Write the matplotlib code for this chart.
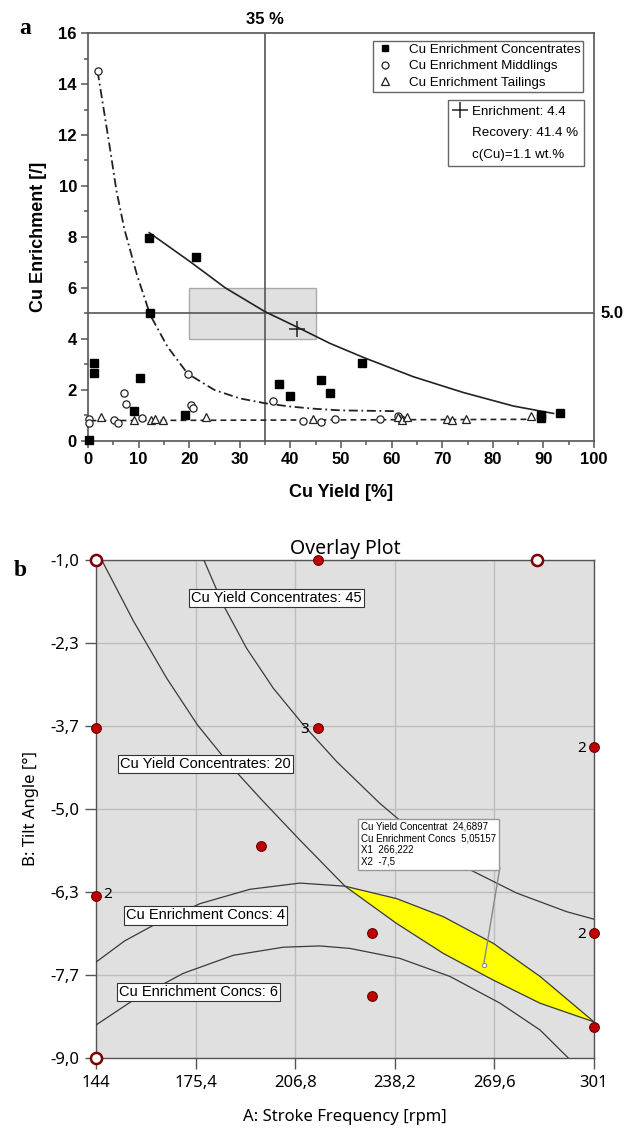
import matplotlib
matplotlib.use("Agg")
import matplotlib.pyplot as plt
from matplotlib.lines import Line2D
from matplotlib.patches import Rectangle

# ---------------- data: panel a ----------------
conc_x = [12.1, 21.4, 12.3, 1.1, 1.1, 10.2, 9.1, 19.1, 37.7, 39.9, 0.1, 46.1, 47.9, 54.1, 89.5, 89.6, 93.2]
conc_y = [7.95, 7.2, 5.0, 3.04, 2.68, 2.49, 1.17, 1.0, 2.22, 1.78, 0.03, 2.39, 1.88, 3.05, 0.9, 1.02, 1.09]

midd_x = [2.0, 19.7, 7.2, 7.6, 20.4, 20.7, 36.5, 0.2, 0.2, 5.1, 5.9, 10.7, 42.4, 46.0, 48.8, 57.8, 61.3, 61.8]
midd_y = [14.5, 2.64, 1.89, 1.45, 1.41, 1.3, 1.55, 0.86, 0.7, 0.82, 0.72, 0.89, 0.79, 0.75, 0.86, 0.86, 0.99, 0.88]

tail_x = [2.6, 9.0, 12.5, 13.3, 14.9, 23.3, 44.4, 61.2, 62.0, 63.1, 70.9, 71.9, 74.7, 87.5]
tail_y = [0.95, 0.84, 0.82, 0.88, 0.84, 0.95, 0.88, 0.95, 0.84, 0.95, 0.88, 0.84, 0.88, 0.97]

conc_fit_x = [12.1, 20.2, 27.1, 35.0, 41.2, 47.8, 54.4, 64.3, 74.2, 84.1, 92.0]
conc_fit_y = [8.17, 7.03, 6.01, 5.07, 4.48, 3.83, 3.28, 2.52, 1.90, 1.37, 1.08]

midd_fit_x = [1.9, 4.4, 5.6, 7.2, 9.7, 12.3, 15.7, 19.7, 25.0, 30.0, 35.0, 40.0, 45.0, 50.0, 61.0]
midd_fit_y = [14.5, 11.4, 9.84, 8.3, 6.5, 4.94, 3.70, 2.64, 2.0, 1.67, 1.48, 1.35, 1.26, 1.20, 1.17]

tail_fit_x = [0.5, 88.0]
tail_fit_y = [0.80, 0.85]

target_yield = 35.0
target_enrich = 5.0
box_x = [20.0, 45.0]
box_y = [4.0, 6.0]
opt_point = (41.4, 4.4)

legend_labels = ["Cu Enrichment Concentrates", "Cu Enrichment Middlings", "Cu Enrichment Tailings"]
info_labels = ["Enrichment: 4.4", "Recovery: 41.4 %", "c(Cu)=1.1 wt.%"]

# ---------------- data: panel b ----------------
x_ticks_b = [144.0, 175.4, 206.8, 238.2, 269.6, 301.0]
y_ticks_b = [-1.0, -2.333, -3.667, -5.0, -6.333, -7.667, -9.0]

y45_x = [178.0, 184.1, 191.5, 199.9, 209.4, 219.9, 233.5, 246.0, 260.9, 276.6, 292.4, 301.0]
y45_y = [-1.0, -1.72, -2.42, -3.06, -3.65, -4.24, -4.91, -5.45, -5.95, -6.35, -6.65, -6.77]

y20_left_x = [145.8, 155.8, 166.3, 176.0, 186.0, 196.2, 208.3]
y20_left_y = [-1.0, -1.98, -2.90, -3.65, -4.28, -4.85, -5.50]

e4_left_x = [144.0, 153.0, 163.1, 176.8, 192.5, 208.3]
e4_left_y = [-7.46, -7.12, -6.84, -6.52, -6.29, -6.19]

opt_x = [222.5, 238.8, 253.5, 269.3, 284.0, 301.0]
opt_upper = [-6.24, -6.44, -6.73, -7.16, -7.69, -8.42]   # Cu Enrichment Concs: 4
opt_lower = [-6.24, -6.84, -7.32, -7.75, -8.12, -8.42]   # Cu Yield Concentrates: 20

e6_x = [144.0, 155.8, 171.5, 187.3, 203.1, 214.6, 224.1, 239.8, 255.6, 271.4, 284.0, 292.9]
e6_y = [-8.47, -8.07, -7.64, -7.35, -7.22, -7.20, -7.24, -7.40, -7.69, -8.12, -8.55, -9.0]

design_x = [213.9, 144.0, 213.9, 301.0, 196.0, 144.0, 231.0, 231.0, 301.0, 301.0]
design_y = [-1.0, -3.7, -3.7, -4.0, -5.6, -6.4, -7.0, -8.0, -7.0, -8.5]
axial_x = [144.0, 283.0, 144.0]
axial_y = [-1.0, -1.0, -9.0]
rep_x = [213.9, 301.0, 144.0, 301.0]
rep_y = [-3.7, -4.0, -6.4, -7.0]
rep_n = ["3", "2", "2", "2"]

contour_labels = ["Cu Yield Concentrates: 45", "Cu Yield Concentrates: 20",
                  "Cu Enrichment Concs: 4", "Cu Enrichment Concs: 6"]
contour_label_x = [201.0, 178.6, 178.6, 176.3]
contour_label_y = [-1.61, -4.28, -6.71, -7.94]

sel_x1_text, sel_x2_text = "266,222", "-7,5"
sel_x1, sel_x2 = 266.222, -7.5
sel_yield, sel_enrich = "24,6897", "5,05157"

# ---------------- figure ----------------
W, H = 628, 1130
fig = plt.figure(figsize=(W / 100, H / 100), dpi=100)
ARIAL = "Liberation Sans"
SEGOE = "Noto Sans"

# ===== panel a =====
ax1 = fig.add_axes([88 / W, 1 - 441 / H, 506 / W, 408 / H])
ax1.set_xlim(0, 100)
ax1.set_ylim(0, 16)
spine_c = "#555555"
for s in ax1.spines.values():
    s.set_color(spine_c)
    s.set_linewidth(1.2)
ax1.set_xticks(range(0, 101, 10))
ax1.set_xticks(range(5, 100, 10), minor=True)
ax1.set_yticks(range(0, 17, 2))
ax1.set_yticks(range(1, 16, 2), minor=True)
ax1.tick_params(which="both", direction="out", color=spine_c, width=1.1, top=False, right=False)
ax1.tick_params(which="major", length=5, pad=3)
ax1.tick_params(which="minor", length=3)
for lab in ax1.get_xticklabels() + ax1.get_yticklabels():
    lab.set_fontfamily(ARIAL)
    lab.set_fontweight("bold")
    lab.set_fontsize(12)

ax1.add_patch(Rectangle((box_x[0], box_y[0]), box_x[1] - box_x[0], box_y[1] - box_y[0],
                        fc="#e0e0e0", ec="#aaaaaa", lw=1.0, zorder=1))
ax1.axvline(target_yield, color=spine_c, lw=1.2, zorder=2)
ax1.axhline(target_enrich, color=spine_c, lw=1.2, zorder=2)

ax1.plot(conc_fit_x, conc_fit_y, color="#222222", lw=1.2, zorder=3)
ax1.plot(midd_fit_x, midd_fit_y, color="#222222", lw=1.3, ls=(0, (5, 2, 1, 2)), zorder=3)
ax1.plot(tail_fit_x, tail_fit_y, color="#222222", lw=1.2, ls=(0, (3.5, 2.5)), zorder=3)

ax1.plot(conc_x, conc_y, ls="none", marker="s", ms=5.2, mfc="black", mec="black", zorder=5, clip_on=False)
ax1.plot(midd_x, midd_y, ls="none", marker="o", ms=5.2, mfc="white", mec="#222222", mew=0.9, zorder=4, clip_on=False)
ax1.plot(tail_x, tail_y, ls="none", marker="^", ms=6.0, mfc="white", mec="#222222", mew=0.9, zorder=4, clip_on=False)
ax1.plot([opt_point[0]], [opt_point[1]], ls="none", marker="+", ms=11, mec="#222222", mew=1.1, zorder=6)

ax1.set_xlabel("Cu Yield [%]", fontfamily=ARIAL, fontweight="bold", fontsize=13, labelpad=12)
ax1.set_ylabel("Cu Enrichment [/]", fontfamily=ARIAL, fontweight="bold", fontsize=13, labelpad=8)

ax1.text(target_yield, 16.25, "35 %", ha="center", va="bottom", fontfamily=ARIAL,
         fontweight="bold", fontsize=12)
ax1.text(101.2, target_enrich, "5.0", ha="left", va="center", fontfamily=ARIAL,
         fontweight="bold", fontsize=12, clip_on=False)

h1 = [Line2D([], [], ls="none", marker="s", ms=5, mfc="black", mec="black"),
      Line2D([], [], ls="none", marker="o", ms=5, mfc="white", mec="#222222", mew=0.9),
      Line2D([], [], ls="none", marker="^", ms=5.5, mfc="white", mec="#222222", mew=0.9)]
leg1 = ax1.legend(h1, legend_labels, loc="upper right", bbox_to_anchor=(0.979, 0.981),
                  prop={"family": ARIAL, "size": 9.6}, frameon=True, fancybox=False,
                  edgecolor="#666666", framealpha=1, borderpad=0.2, labelspacing=0.32,
                  handlelength=1.4, handletextpad=1.1, borderaxespad=0)
leg1.get_frame().set_linewidth(1.0)
ax1.add_artist(leg1)
h2 = [Line2D([], [], ls="none", marker="+", ms=11, mec="#222222", mew=1.1),
      Line2D([], [], ls="none"), Line2D([], [], ls="none")]
leg2 = ax1.legend(h2, info_labels, loc="upper right", bbox_to_anchor=(0.980, 0.836),
                  prop={"family": ARIAL, "size": 9.6}, frameon=True, fancybox=False,
                  edgecolor="#666666", framealpha=1, borderpad=0.4, labelspacing=0.7,
                  handlelength=1.0, handletextpad=0.4, borderaxespad=0)
leg2.get_frame().set_linewidth(1.0)

fig.text(25 / W, 1 - 28 / H, "a", fontfamily="Liberation Serif", fontweight="bold",
         fontsize=17, ha="center", va="center")

# ===== panel b =====
ax2 = fig.add_axes([96 / W, 1 - 1058 / H, 498 / W, 498 / H])
ax2.set_xlim(144, 301)
ax2.set_ylim(-9, -1)
ax2.set_facecolor("#e0e0e0")
for s in ax2.spines.values():
    s.set_color("#555555")
    s.set_linewidth(1.0)


def fmt(v):
    if abs(v - round(v)) < 1e-9:
        return str(int(round(v)))
    return f"{v:.1f}".replace(".", ",")


ax2.set_xticks(x_ticks_b)
ax2.set_xticklabels([fmt(v) for v in x_ticks_b])
ax2.set_yticks(y_ticks_b)
ax2.set_yticklabels([f"{v:.1f}".replace(".", ",") for v in y_ticks_b])
ax2.tick_params(direction="out", length=8, width=1.0, color="#555555", labelsize=12, pad=4)
for lab in ax2.get_xticklabels() + ax2.get_yticklabels():
    lab.set_fontfamily(SEGOE)
ax2.grid(True, color="#bdbdbd", lw=1.0)
ax2.set_axisbelow(True)

ax2.fill_between(opt_x, opt_lower, opt_upper, color="#ffff00", lw=0, zorder=2)

cc = "#3a3a3a"
ax2.plot(y45_x, y45_y, color=cc, lw=0.9, zorder=3)
ax2.plot(y20_left_x + opt_x, y20_left_y + opt_lower, color=cc, lw=0.9, zorder=3)
ax2.plot(e4_left_x + opt_x, e4_left_y + opt_upper, color=cc, lw=0.9, zorder=3)
ax2.plot(e6_x, e6_y, color=cc, lw=0.9, zorder=3)

for t, lx, ly in zip(contour_labels, contour_label_x, contour_label_y):
    ax2.text(lx, ly, t, ha="center", va="center", fontfamily=ARIAL, fontsize=10.5, zorder=4,
             bbox=dict(boxstyle="square,pad=0.15", fc="white", ec="#333333", lw=0.8))

ax2.plot(design_x, design_y, ls="none", marker="o", ms=7, mfc="#c00000", mec="#6a0000",
         mew=0.8, zorder=6, clip_on=False)
ax2.plot(axial_x, axial_y, ls="none", marker="o", ms=8, mfc="white", mec="#7a0000",
         mew=1.8, zorder=6, clip_on=False)
for rx, ry, rn in zip(rep_x, rep_y, rep_n):
    if rx < 150:
        ax2.annotate(rn, (rx, ry), xytext=(5, 1), textcoords="offset points", ha="left",
                     va="center", fontfamily=SEGOE, fontsize=11, zorder=7, annotation_clip=False)
    else:
        ax2.annotate(rn, (rx, ry), xytext=(-6, -1), textcoords="offset points", ha="right",
                     va="center", fontfamily=SEGOE, fontsize=11, zorder=7, annotation_clip=False)

# callout
box_corner = (271.3, -5.95)
ax2.plot([box_corner[0], sel_x1], [box_corner[1], sel_x2], color="#888888", lw=1.0, zorder=7)
ax2.plot([sel_x1], [sel_x2], ls="none", marker="o", ms=3, mfc="white", mec="#888888", mew=0.8, zorder=8)
callout = (f"Cu Yield Concentrat  {sel_yield}\nCu Enrichment Concs  {sel_enrich}\n"
           f"X1  {sel_x1_text}\nX2  {sel_x2_text}")
ax2.text(227.5, -5.2, callout, ha="left", va="top", fontfamily=ARIAL, fontsize=7.0,
         linespacing=1.22, zorder=8,
         bbox=dict(boxstyle="square,pad=0.3", fc="white", ec="#999999", lw=1.0))

ax2.set_title("Overlay Plot", fontfamily=SEGOE, fontsize=14, pad=4)
ax2.set_xlabel("A: Stroke Frequency [rpm]", fontfamily=SEGOE, fontsize=12, labelpad=13)
ax2.set_ylabel("B: Tilt Angle [°]", fontfamily=SEGOE, fontsize=12, labelpad=8)

fig.text(20 / W, 1 - 570 / H, "b", fontfamily="Liberation Serif", fontweight="bold",
         fontsize=17, ha="center", va="center")

fig.savefig("out.png", dpi=100)
